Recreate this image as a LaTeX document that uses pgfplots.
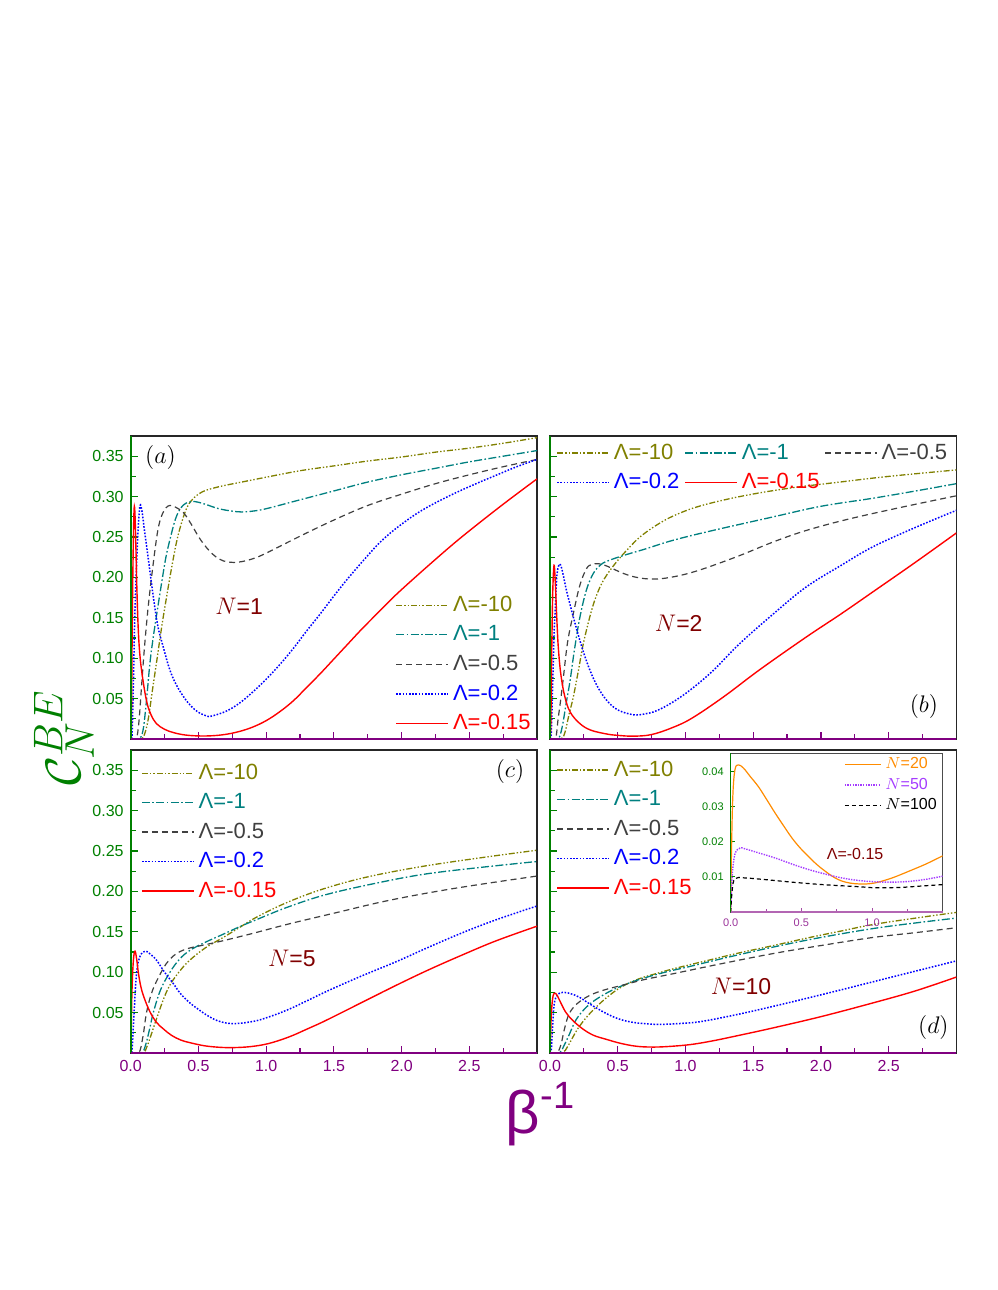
\documentclass[border=0pt]{standalone}
\usepackage{pgfplots}
\pgfplotsset{compat=1.18}
\usepackage{fontspec}
\setmainfont{Liberation Sans}
\definecolor{olv}{RGB}{128,128,0}
\definecolor{tl}{RGB}{0,128,128}
\definecolor{dg}{RGB}{64,64,64}
\definecolor{bl}{RGB}{0,0,255}
\definecolor{rd}{RGB}{255,0,0}
\definecolor{dred}{RGB}{128,0,0}
\definecolor{grn}{RGB}{0,128,0}
\definecolor{prp}{RGB}{128,0,128}
\definecolor{org}{RGB}{255,140,0}
\definecolor{vio}{RGB}{165,60,255}
\pgfplotsset{
  lam10/.style={olv, line width=0.65pt, dash pattern=on 3pt off 1pt on 0.7pt off 1pt on 0.7pt off 1pt, smooth, tension=0.6},
  lam1/.style={tl, line width=0.65pt, dash pattern=on 4pt off 1.2pt on 0.8pt off 1.2pt, smooth, tension=0.6},
  lam05/.style={dg, line width=0.6pt, dash pattern=on 3pt off 2pt, smooth, tension=0.6},
  lam02/.style={bl, line width=0.75pt, dash pattern=on 0.8pt off 0.8pt, smooth, tension=0.6},
  lam015/.style={rd, line width=0.7pt, smooth, tension=0.6},
  panel/.style={
    scale only axis, width=203.2pt, height=151.5pt,
    xmin=0, xmax=3, ymin=0, ymax=0.375,
    xtick={0,0.5,1,1.5,2,2.5}, minor xtick={0.25,0.75,1.25,1.75,2.25,2.75},
    ytick={0.05,0.1,0.15,0.2,0.25,0.3,0.35},
    minor ytick={0.025,0.075,0.125,0.175,0.225,0.275,0.325},
    xticklabels={0.0,0.5,1.0,1.5,2.0,2.5},
    yticklabels={0.05,0.10,0.15,0.20,0.25,0.30,0.35},
    scaled ticks=false,
    tick pos=left, tick align=inside,
    major tick length=3.5pt, minor tick length=2.5pt,
    xtick style={prp, line width=0.6pt}, ytick style={grn, line width=0.6pt},
    axis line style={line width=0.8pt, black!85},
    tick label style={font=\fontsize{8}{9}\selectfont},
    xticklabel style={prp}, yticklabel style={grn},
    legend cell align=left,
    legend image code/.code={\draw[##1] (0pt,0pt) -- (26pt,0pt);},
    legend style={draw=none, fill=none, font=\fontsize{11}{12}\selectfont, row sep=1.6pt, inner sep=1pt},
    extra description/.code={
      \draw[grn,line width=0.9pt] (axis description cs:0,0) -- (axis description cs:0,1);
      \draw[prp,line width=0.9pt] (axis description cs:0,0) -- (axis description cs:1,0);
    },
  },
}
\begin{document}
\begin{tikzpicture}
\path (0pt,0pt) rectangle (498.5pt,645pt);
% ---------------- (a) ----------------
\begin{axis}[panel, at={(65.35pt,275.5pt)}, anchor=south west, xticklabels={},
  legend style={at={(1,0.0)}, anchor=south east}]
\addplot[lam10] coordinates {(0,0) (0.07,0) (0.1,0.005) (0.13,0.025) (0.16,0.06) (0.19,0.094) (0.23,0.14) (0.265,0.176) (0.3,0.21) (0.34,0.245) (0.38,0.27) (0.42,0.288) (0.47,0.299) (0.53,0.306) (0.6,0.31) (0.7,0.314) (0.85,0.319) (1.0,0.324) (1.25,0.332) (1.5,0.338) (1.75,0.344) (2.0,0.349) (2.25,0.355) (2.5,0.36) (2.75,0.366) (3.0,0.373)};
\addlegendentry{\textcolor{olv}{Λ=-10}}
\addplot[lam1] coordinates {(0,0) (0.06,0) (0.09,0.01) (0.115,0.045) (0.142,0.094) (0.17,0.13) (0.2,0.163) (0.23,0.195) (0.26,0.225) (0.29,0.247) (0.33,0.272) (0.37,0.286) (0.41,0.292) (0.45,0.294) (0.5,0.293) (0.56,0.29) (0.65,0.285) (0.75,0.282) (0.82,0.281) (0.9,0.282) (1.0,0.285) (1.25,0.296) (1.5,0.307) (1.75,0.318) (2.0,0.327) (2.25,0.335) (2.5,0.343) (2.75,0.35) (3.0,0.357)};
\addlegendentry{\textcolor{tl}{Λ=-1}}
\addplot[lam05] coordinates {(0,0) (0.04,0) (0.06,0.02) (0.08,0.065) (0.1,0.11) (0.13,0.165) (0.167,0.218) (0.2,0.258) (0.228,0.276) (0.26,0.286) (0.29,0.289) (0.33,0.287) (0.39,0.28) (0.45,0.265) (0.51,0.248) (0.58,0.233) (0.65,0.223) (0.72,0.219) (0.8,0.219) (0.9,0.223) (1.0,0.23) (1.25,0.251) (1.5,0.271) (1.75,0.289) (2.0,0.303) (2.25,0.316) (2.5,0.327) (2.75,0.337) (3.0,0.346)};
\addlegendentry{\textcolor{dg}{Λ=-0.5}}
\addplot[lam02] coordinates {(0,0) (0.01,0.005) (0.02,0.07) (0.03,0.15) (0.044,0.218) (0.055,0.26) (0.069,0.289) (0.085,0.28) (0.1,0.26) (0.118,0.238) (0.14,0.21) (0.167,0.176) (0.2,0.14) (0.24,0.114) (0.29,0.085) (0.34,0.066) (0.4,0.05) (0.45,0.04) (0.5,0.033) (0.57,0.028) (0.6,0.0285) (0.7,0.034) (0.8,0.044) (0.9,0.058) (1.0,0.074) (1.1,0.092) (1.2,0.112) (1.3,0.134) (1.4,0.155) (1.5,0.177) (1.6,0.198) (1.739,0.225) (1.85,0.245) (1.985,0.264) (2.15,0.283) (2.353,0.301) (2.55,0.316) (2.72,0.328) (2.85,0.337) (3.0,0.346)};
\addlegendentry{\textcolor{bl}{Λ=-0.2}}
\addplot[lam015] coordinates {(0,0) (0.005,0.02) (0.012,0.15) (0.02,0.25) (0.027,0.288) (0.035,0.26) (0.045,0.19) (0.056,0.135) (0.07,0.1) (0.093,0.07) (0.12,0.045) (0.15,0.03) (0.19,0.019) (0.25,0.012) (0.314,0.008) (0.4,0.005) (0.5,0.0038) (0.6,0.004) (0.7,0.0057) (0.8,0.0092) (0.9,0.0147) (1.0,0.0227) (1.1,0.0337) (1.2,0.0472) (1.3,0.064) (1.4,0.081) (1.5,0.099) (1.6,0.117) (1.7,0.135) (1.8,0.152) (1.9,0.169) (2.0,0.185) (2.2,0.215) (2.4,0.244) (2.6,0.271) (2.8,0.297) (3.0,0.322)};
\addlegendentry{\textcolor{rd}{Λ=-0.15}}
\node[dred, font=\fontsize{11.5}{12}\selectfont] at (axis cs:0.8,0.164) {$N$=1};
\node[font=\fontsize{12}{13}\selectfont] at (axis cs:0.22,0.348) {$(a)$};
\end{axis}
% ---------------- (b) ----------------
\begin{axis}[panel, at={(275pt,275.5pt)}, anchor=south west, xticklabels={}, yticklabels={},
  legend columns=3,
  legend style={at={(0.01,0.995)}, anchor=north west, /tikz/every even column/.append style={column sep=0.5pt}}]
\addplot[lam10] coordinates {(0,0) (0.08,0) (0.11,0.008) (0.14,0.03) (0.172,0.052) (0.21,0.085) (0.246,0.118) (0.3,0.155) (0.344,0.178) (0.4,0.198) (0.49,0.219) (0.58,0.236) (0.664,0.25) (0.78,0.264) (0.91,0.276) (1.1,0.288) (1.4,0.3) (1.75,0.31) (2.14,0.318) (2.5,0.325) (3.0,0.333)};
\addlegendentry{\textcolor{olv}{Λ=-10}}
\addplot[lam1] coordinates {(0,0) (0.06,0) (0.09,0.015) (0.12,0.045) (0.148,0.072) (0.18,0.11) (0.221,0.151) (0.27,0.185) (0.32,0.205) (0.37,0.215) (0.42,0.22) (0.54,0.227) (0.7,0.235) (0.91,0.246) (1.2,0.258) (1.65,0.275) (2.0,0.288) (2.385,0.298) (2.7,0.307) (3.0,0.316)};
\addlegendentry{\textcolor{tl}{Λ=-1}}
\addplot[lam05] coordinates {(0,0) (0.04,0) (0.06,0.025) (0.08,0.05) (0.098,0.075) (0.13,0.12) (0.172,0.155) (0.22,0.19) (0.27,0.211) (0.31,0.216) (0.357,0.217) (0.42,0.214) (0.54,0.205) (0.64,0.2) (0.74,0.198) (0.85,0.199) (1.0,0.204) (1.156,0.212) (1.4,0.227) (1.65,0.244) (1.89,0.258) (2.2,0.272) (2.6,0.287) (3.0,0.301)};
\addlegendentry{\textcolor{dg}{Λ=-0.5}}
\addplot[lam02] coordinates {(0,0) (0.01,0.01) (0.02,0.07) (0.03,0.13) (0.037,0.155) (0.05,0.2) (0.065,0.215) (0.079,0.215) (0.095,0.205) (0.12,0.185) (0.15,0.165) (0.172,0.151) (0.21,0.128) (0.25,0.106) (0.295,0.085) (0.35,0.065) (0.418,0.048) (0.5,0.036) (0.615,0.030) (0.7,0.031) (0.787,0.035) (0.9,0.045) (1.03,0.06) (1.2,0.084) (1.4,0.118) (1.65,0.155) (1.89,0.188) (2.15,0.215) (2.385,0.238) (2.7,0.262) (3.0,0.283)};
\addlegendentry{\textcolor{bl}{Λ=-0.2}}
\addplot[lam015] coordinates {(0,0) (0.006,0.02) (0.012,0.1) (0.02,0.18) (0.03,0.215) (0.04,0.19) (0.05,0.15) (0.061,0.114) (0.08,0.08) (0.11,0.052) (0.15,0.033) (0.221,0.019) (0.3,0.011) (0.418,0.0062) (0.5,0.0045) (0.615,0.0035) (0.75,0.0055) (0.91,0.0145) (1.05,0.026) (1.28,0.052) (1.55,0.086) (1.89,0.126) (2.15,0.155) (2.4,0.184) (2.7,0.219) (3.0,0.255)};
\addlegendentry{\textcolor{rd}{Λ=-0.15}}
\node[dred, font=\fontsize{11.5}{12}\selectfont] at (axis cs:0.95,0.143) {$N$=2};
\node[font=\fontsize{12}{13}\selectfont] at (axis cs:2.76,0.04) {$(b)$};
\end{axis}
% ---------------- (c) ----------------
\begin{axis}[panel, at={(65.35pt,118.5pt)}, anchor=south west,
  legend style={at={(0.02,0.975)}, anchor=north west}]
\addplot[lam10] coordinates {(0,0) (0.09,0) (0.12,0.008) (0.15,0.022) (0.19,0.042) (0.25,0.07) (0.3,0.087) (0.37,0.103) (0.437,0.115) (0.55,0.13) (0.683,0.143) (0.8,0.155) (0.928,0.168) (1.15,0.186) (1.42,0.203) (1.75,0.218) (2.156,0.231) (2.6,0.242) (3.0,0.251)};
\addlegendentry{\textcolor{olv}{Λ=-10}}
\addplot[lam1] coordinates {(0,0) (0.08,0) (0.11,0.01) (0.14,0.03) (0.167,0.05) (0.22,0.078) (0.29,0.1) (0.36,0.116) (0.437,0.127) (0.55,0.137) (0.683,0.147) (0.8,0.156) (0.928,0.165) (1.15,0.18) (1.42,0.195) (1.75,0.208) (2.156,0.221) (2.6,0.23) (3.0,0.237)};
\addlegendentry{\textcolor{tl}{Λ=-1}}
\addplot[lam05] coordinates {(0,0) (0.06,0) (0.09,0.02) (0.118,0.051) (0.16,0.077) (0.216,0.097) (0.26,0.11) (0.314,0.12) (0.37,0.126) (0.437,0.13) (0.55,0.134) (0.683,0.139) (0.9,0.148) (1.174,0.16) (1.5,0.173) (1.91,0.189) (2.4,0.204) (3.0,0.219)};
\addlegendentry{\textcolor{dg}{Λ=-0.5}}
\addplot[lam02] coordinates {(0,0) (0.01,0.003) (0.025,0.05) (0.044,0.1) (0.07,0.12) (0.106,0.126) (0.14,0.123) (0.19,0.115) (0.25,0.1) (0.314,0.086) (0.37,0.073) (0.437,0.062) (0.5,0.054) (0.56,0.047) (0.64,0.04) (0.732,0.0365) (0.83,0.0372) (0.93,0.04) (1.0,0.0435) (1.1,0.0495) (1.2,0.0565) (1.3,0.0645) (1.469,0.078) (1.7,0.095) (1.96,0.113) (2.2,0.131) (2.451,0.149) (2.7,0.165) (3.0,0.182)};
\addlegendentry{\textcolor{bl}{Λ=-0.2}}
\addplot[lam015] coordinates {(0,0) (0.004,0.03) (0.01,0.08) (0.02,0.115) (0.032,0.126) (0.045,0.115) (0.056,0.1) (0.075,0.082) (0.1,0.068) (0.142,0.051) (0.19,0.038) (0.24,0.03) (0.3,0.022) (0.37,0.016) (0.437,0.0128) (0.55,0.0088) (0.683,0.0068) (0.8,0.0069) (0.9,0.0082) (1.0,0.011) (1.1,0.0158) (1.2,0.022) (1.3,0.0295) (1.4,0.037) (1.5,0.0452) (1.7,0.062) (1.96,0.0838) (2.2,0.103) (2.45,0.1215) (2.7,0.139) (3.0,0.157)};
\addlegendentry{\textcolor{rd}{Λ=-0.15}}
\node[dred, font=\fontsize{11.5}{12}\selectfont] at (axis cs:1.19,0.117) {$N$=5};
\node[font=\fontsize{12}{13}\selectfont] at (axis cs:2.8,0.348) {$(c)$};
\end{axis}
% ---------------- (d) ----------------
\begin{axis}[panel, at={(275pt,118.5pt)}, anchor=south west, yticklabels={},
  legend style={at={(0.01,0.985)}, anchor=north west}]
\addplot[lam10] coordinates {(0,0) (0.09,0) (0.13,0.008) (0.17,0.02) (0.217,0.033) (0.3,0.05) (0.414,0.068) (0.53,0.082) (0.66,0.092) (0.8,0.099) (0.906,0.104) (1.15,0.114) (1.4,0.124) (1.65,0.133) (1.89,0.142) (2.15,0.151) (2.384,0.159) (2.7,0.167) (3.0,0.174)};
\addlegendentry{\textcolor{olv}{Λ=-10}}
\addplot[lam1] coordinates {(0,0) (0.07,0) (0.1,0.008) (0.14,0.022) (0.192,0.041) (0.27,0.057) (0.365,0.069) (0.5,0.081) (0.66,0.091) (0.85,0.1) (1.03,0.107) (1.3,0.118) (1.645,0.131) (2.0,0.143) (2.384,0.154) (2.7,0.161) (3.0,0.167)};
\addlegendentry{\textcolor{tl}{Λ=-1}}
\addplot[lam05] coordinates {(0,0) (0.05,0) (0.08,0.01) (0.11,0.032) (0.143,0.049) (0.2,0.061) (0.29,0.071) (0.4,0.078) (0.537,0.084) (0.7,0.091) (0.906,0.098) (1.25,0.11) (1.645,0.123) (2.0,0.133) (2.384,0.143) (2.7,0.149) (3.0,0.155)};
\addlegendentry{\textcolor{dg}{Λ=-0.5}}
\addplot[lam02] coordinates {(0,0) (0.01,0.005) (0.02,0.035) (0.032,0.062) (0.06,0.073) (0.106,0.075) (0.16,0.073) (0.217,0.069) (0.3,0.06) (0.414,0.049) (0.51,0.042) (0.61,0.038) (0.72,0.036) (0.832,0.0355) (1.0,0.037) (1.153,0.04) (1.5,0.052) (2.0,0.072) (2.5,0.093) (3.0,0.114)};
\addlegendentry{\textcolor{bl}{Λ=-0.2}}
\addplot[lam015] coordinates {(0,0) (0.004,0.02) (0.01,0.049) (0.02,0.068) (0.032,0.074) (0.05,0.072) (0.08,0.062) (0.118,0.05) (0.17,0.04) (0.24,0.03) (0.32,0.022) (0.414,0.017) (0.52,0.012) (0.63,0.0085) (0.734,0.0074) (0.85,0.0078) (1.03,0.0103) (1.2,0.015) (1.4,0.022) (1.645,0.031) (2.0,0.045) (2.384,0.062) (2.7,0.077) (3.0,0.094)};
\addlegendentry{\textcolor{rd}{Λ=-0.15}}
\node[dred, font=\fontsize{11.5}{12}\selectfont] at (axis cs:1.41,0.083) {$N$=10};
\node[font=\fontsize{12}{13}\selectfont] at (axis cs:2.83,0.031) {$(d)$};
\end{axis}
% ---------------- inset ----------------
\begin{axis}[scale only axis, width=106pt, height=79.35pt, at={(365.35pt,189pt)}, anchor=south west,
  xmin=0, xmax=1.5, ymin=0, ymax=0.0452,
  axis background/.style={fill=white},
  scaled ticks=false,
  xtick={0,0.5,1}, xticklabels={0.0,0.5,1.0}, minor xtick={0.25,0.75,1.25},
  ytick={0.01,0.02,0.03,0.04}, yticklabels={0.01,0.02,0.03,0.04},
  tick pos=left, tick align=inside, major tick length=2pt, minor tick length=1.5pt,
  xtick style={prp!70, line width=0.4pt}, ytick style={grn, line width=0.4pt},
  axis line style={line width=0.6pt, black!70},
  tick label style={font=\fontsize{5.5}{6}\selectfont},
  xticklabel style={prp!80}, yticklabel style={grn},
  legend cell align=left,
  legend image code/.code={\draw[#1] (0pt,0pt) -- (18pt,0pt);},
  legend style={draw=none, fill=none, font=\fontsize{8}{9}\selectfont, row sep=-1pt, inner sep=0.8pt, at={(1.0,1.01)}, anchor=north east},
  extra description/.code={
    \draw[grn,line width=0.6pt] (axis description cs:0,0) -- (axis description cs:0,1);
    \draw[prp!60,line width=0.6pt] (axis description cs:0,0) -- (axis description cs:1,0);
  }]
\addplot[org, line width=0.6pt, smooth, tension=0.6] coordinates {(0,0) (0.005,0.016) (0.015,0.033) (0.03,0.0405) (0.054,0.0419) (0.09,0.041) (0.14,0.0385) (0.196,0.0357) (0.255,0.032) (0.314,0.0282) (0.375,0.0245) (0.433,0.0211) (0.49,0.0183) (0.55,0.0158) (0.61,0.0135) (0.669,0.0116) (0.73,0.0099) (0.787,0.0088) (0.85,0.0082) (0.905,0.008) (0.965,0.008) (1.023,0.0083) (1.08,0.0089) (1.142,0.0097) (1.2,0.0106) (1.26,0.0116) (1.32,0.0126) (1.378,0.0136) (1.44,0.0148) (1.5,0.016)};
\addlegendentry{\textcolor{org}{$N$=20}}
\addplot[vio, line width=0.7pt, dash pattern=on 0.7pt off 0.6pt, smooth, tension=0.6] coordinates {(0,0) (0.01,0.01) (0.03,0.0165) (0.066,0.0182) (0.1,0.018) (0.2,0.0168) (0.314,0.0154) (0.43,0.0137) (0.55,0.0121) (0.67,0.0108) (0.787,0.0097) (0.9,0.009) (1.023,0.0086) (1.14,0.0085) (1.26,0.0087) (1.38,0.0093) (1.5,0.0102)};
\addlegendentry{\textcolor{vio}{$N$=50}}
\addplot[black, line width=0.6pt, dash pattern=on 2pt off 1.5pt, smooth, tension=0.6] coordinates {(0,0) (0.01,0.006) (0.03,0.0095) (0.1,0.0097) (0.25,0.0092) (0.433,0.0085) (0.65,0.0078) (0.905,0.0072) (1.023,0.0069) (1.2,0.007) (1.35,0.0074) (1.5,0.0078)};
\addlegendentry{$N$=100}
\node[dred, font=\fontsize{8}{9}\selectfont] at (axis cs:0.88,0.0166) {Λ=-0.15};
\end{axis}
% ---------------- axis titles ----------------
\node[grn, rotate=90] at (32pt,276pt) {\fontsize{24.88}{30}\selectfont $\mathcal{C}_N^{BE}$};
\node[prp] at (270pt,88pt) {\fontsize{30}{34}\selectfont β\raisebox{0.42em}{\fontsize{19}{22}\selectfont -1}};
\end{tikzpicture}
\end{document}
